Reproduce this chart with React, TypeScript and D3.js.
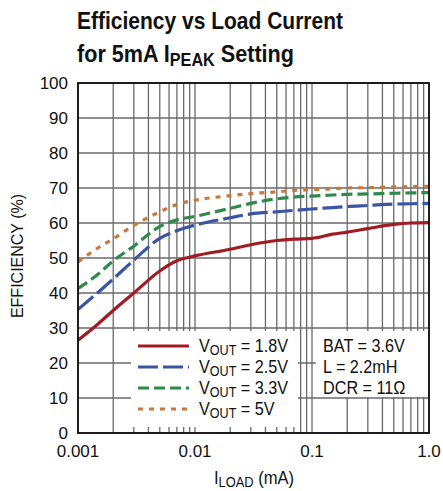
import React from "react";
import * as d3 from "d3";

const loads = [0.001, 0.0015, 0.002, 0.003, 0.005, 0.007, 0.01, 0.02, 0.03, 0.05, 0.07, 0.1, 0.15, 0.2, 0.3, 0.5, 0.7, 1.0];
const eff18 = [26.5, 31.3, 35, 40, 46.3, 49.2, 50.6, 52.5, 53.8, 55, 55.4, 55.6, 56.8, 57.4, 58.4, 59.6, 60, 60.1];
const eff25 = [35.3, 40.3, 44, 49.4, 55.6, 57.8, 59.4, 61.5, 62.6, 63.2, 63.6, 64, 64.4, 64.7, 65, 65.4, 65.5, 65.6];
const eff33 = [41.3, 45.5, 49.2, 53.4, 59, 60.9, 61.9, 64.2, 65.6, 66.9, 67.4, 67.7, 68, 68.2, 68.3, 68.5, 68.6, 68.7];
const eff50 = [48.9, 53, 55.5, 59.3, 63.2, 65.3, 66.5, 67.8, 68.4, 68.9, 69.3, 69.5, 69.8, 70, 70.1, 70.3, 70.4, 70.5];
const seriesVout = ["1.8V", "2.5V", "3.3V", "5V"];
const seriesColors = ["#a01c22", "#3a55a5", "#2f8a4a", "#c8783a"];
const seriesDash = ["none", "20 5", "11 5", "5 6"];
const yTicks = [0, 10, 20, 30, 40, 50, 60, 70, 80, 90, 100];
const xTickLabels = ["0.001", "0.01", "0.1", "1.0"];
const xTickValues = [0.001, 0.01, 0.1, 1];
const conditions = ["BAT = 3.6V", "L = 2.2mH", "DCR = 11Ω"];

const L = 78, R = 429, T = 83, B = 433;
const FONT = "'Liberation Sans', Arial, sans-serif";

export default function App() {
  const x = d3.scaleLog().domain([0.001, 1]).range([L, R]);
  const y = d3.scaleLinear().domain([0, 100]).range([B, T]);
  const allSeries = [eff18, eff25, eff33, eff50];
  const line = d3
    .line<number>()
    .x((_, i) => x(loads[i]))
    .y((d) => y(d))
    .curve(d3.curveMonotoneX);

  const minor: number[] = [];
  for (let e = -3; e < 0; e++) {
    for (let m = 1; m <= 9; m++) minor.push(m * Math.pow(10, e));
  }
  minor.push(1);

  const legendRows = [346, 367, 388, 409];
  const sx = 0.9;

  return (
    <svg width={443} height={491} style={{ position: "absolute", left: 0, top: 0 }}>
      <rect x={0} y={0} width={443} height={491} fill="#fff" />
      {/* Title */}
      <text x={77} y={29} fontFamily={FONT} fontWeight="bold" fontSize={24} textLength={266} lengthAdjust="spacingAndGlyphs" fill="#111">
        Efficiency vs Load Current
      </text>
      <g transform="translate(77,62) scale(0.9,1)">
        <text x={0} y={0} fontFamily={FONT} fontWeight="bold" fontSize={24} fill="#111">
          for 5mA I
          <tspan fontSize={18} dy={4}>PEAK</tspan>
          <tspan dy={-4}> Setting</tspan>
        </text>
      </g>

      {/* Grid */}
      {minor.map((v, i) => (
        <line key={"v" + i} x1={x(v)} x2={x(v)} y1={T} y2={B} stroke="#6a6a6a" strokeWidth={1.3} />
      ))}
      {yTicks.map((v) => (
        <line key={"h" + v} x1={L} x2={R} y1={y(v)} y2={y(v)} stroke="#6a6a6a" strokeWidth={1.3} />
      ))}

      {/* Legend boxes */}
      <rect x={131} y={331} width={167} height={96} fill="#fff" />
      <rect x={316} y={331} width={112} height={66} fill="#fff" />

      {/* Curves */}
      {allSeries.map((s, i) => (
        <path key={"s" + i} d={line(s) || ""} fill="none" stroke={seriesColors[i]} strokeWidth={3.2} strokeDasharray={seriesDash[i]} />
      ))}

      {/* Frame */}
      <rect x={L} y={T} width={R - L} height={B - T} fill="none" stroke="#111" strokeWidth={1.8} />

      {/* Legend */}
      {seriesVout.map((v, i) => (
        <g key={"lg" + i}>
          <line x1={138} x2={189} y1={legendRows[i]} y2={legendRows[i]} stroke={seriesColors[i]} strokeWidth={3.2} strokeDasharray={seriesDash[i]} />
          <g transform={`translate(199,${legendRows[i] + 6}) scale(${sx},1)`}>
            <text x={0} y={0} fontFamily={FONT} fontSize={18} fill="#111">
              V<tspan fontSize={14} dy={3}>OUT</tspan>
              <tspan dy={-3}>{" = " + v}</tspan>
            </text>
          </g>
        </g>
      ))}
      {conditions.map((c, i) => (
        <g key={"c" + i} transform={`translate(323,${legendRows[i] + 6}) scale(${sx},1)`}>
          <text x={0} y={0} fontFamily={FONT} fontSize={18} fill="#111">
            {c}
          </text>
        </g>
      ))}

      {/* Y ticks */}
      {yTicks.map((v) => (
        <text key={"yt" + v} x={68} y={y(v) + 6} textAnchor="end" fontFamily={FONT} fontSize={17} fill="#111">
          {v}
        </text>
      ))}
      {/* X ticks */}
      {xTickValues.map((v, i) => (
        <text key={"xt" + i} x={x(v)} y={457} textAnchor="middle" fontFamily={FONT} fontSize={17} fill="#111">
          {xTickLabels[i]}
        </text>
      ))}

      {/* Axis titles */}
      <g transform={`translate(214,484) scale(0.92,1)`}>
        <text x={0} y={0} fontFamily={FONT} fontSize={18} fill="#111">
          I<tspan fontSize={14} dy={3}>LOAD</tspan>
          <tspan dy={-3}> (mA)</tspan>
        </text>
      </g>
      <text transform={`translate(23, ${(T + B) / 2 - 2}) rotate(-90)`} textAnchor="middle" fontFamily={FONT} fontSize={16} fill="#111">
        EFFICIENCY (%)
      </text>
    </svg>
  );
}
